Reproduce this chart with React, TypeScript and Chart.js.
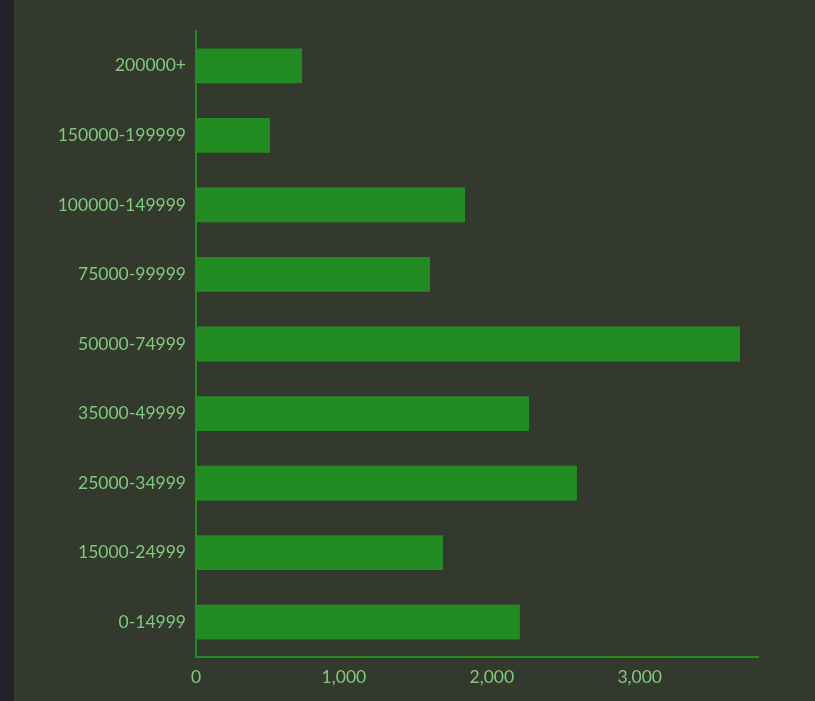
import React, { useEffect, useRef } from 'react';
import { Chart, registerables } from 'chart.js';

Chart.register(...registerables);

// income brackets, bottom to top
const incomeBrackets = [
  '0-14999',
  '15000-24999',
  '25000-34999',
  '35000-49999',
  '50000-74999',
  '75000-99999',
  '100000-149999',
  '150000-199999',
  '200000+',
];
const householdCounts = [2190, 1670, 2576, 2252, 3678, 1582, 1819, 500, 717];
const xTicks = [0, 1000, 2000, 3000];
const xMax = 3800;

const GREEN = '#228b22';
const TEXT = '#7fca7d';

const App: React.FC = () => {
  const canvasRef = useRef<HTMLCanvasElement>(null);
  const chartRef = useRef<Chart | null>(null);

  useEffect(() => {
    if (!canvasRef.current) return;
    const ctx = canvasRef.current.getContext('2d');
    if (!ctx) return;

    chartRef.current = new Chart(ctx, {
      type: 'bar',
      data: {
        labels: incomeBrackets,
        datasets: [
          {
            data: householdCounts,
            backgroundColor: GREEN,
            borderWidth: 0,
            barPercentage: 0.5,
            categoryPercentage: 1,
          },
        ],
      },
      options: {
        indexAxis: 'y',
        responsive: false,
        animation: false,
        layout: { padding: { top: 31, right: 57, bottom: 0, left: 0 } },
        plugins: {
          legend: { display: false },
          tooltip: { enabled: false },
        },
        scales: {
          x: {
            min: 0,
            max: xMax,
            grid: { display: false, drawTicks: false },
            border: { display: true, color: GREEN, width: 2 },
            ticks: {
              color: TEXT,
              padding: 10,
              font: { family: 'Lato', size: 17.5 },
              callback: (v: any) => Number(v).toLocaleString('en-US'),
            },
            afterBuildTicks: (scale: any) => {
              scale.ticks = xTicks.map((value) => ({ value }));
            },
            afterFit: (scale: any) => {
              scale.height = 44;
            },
          },
          y: {
            reverse: true,
            grid: { display: false, drawTicks: false },
            border: { display: true, color: GREEN, width: 2 },
            ticks: {
              color: TEXT,
              padding: 10,
              font: { family: 'Lato', size: 17.5 },
            },
            afterFit: (scale: any) => {
              scale.width = 182;
            },
          },
        },
      },
    });

    return () => {
      chartRef.current?.destroy();
      chartRef.current = null;
    };
  }, []);

  return (
    <div
      style={{
        position: 'fixed',
        left: 0,
        top: 0,
        width: 815,
        height: 701,
        background: '#33392d',
      }}
    >
      <div
        style={{
          position: 'absolute',
          left: 0,
          top: 0,
          width: 14,
          height: 701,
          background: '#222228',
        }}
      />
      <canvas
        ref={canvasRef}
        width={801}
        height={701}
        style={{ position: 'absolute', left: 14, top: 0, width: 801, height: 701 }}
      />
    </div>
  );
};

export default App;
